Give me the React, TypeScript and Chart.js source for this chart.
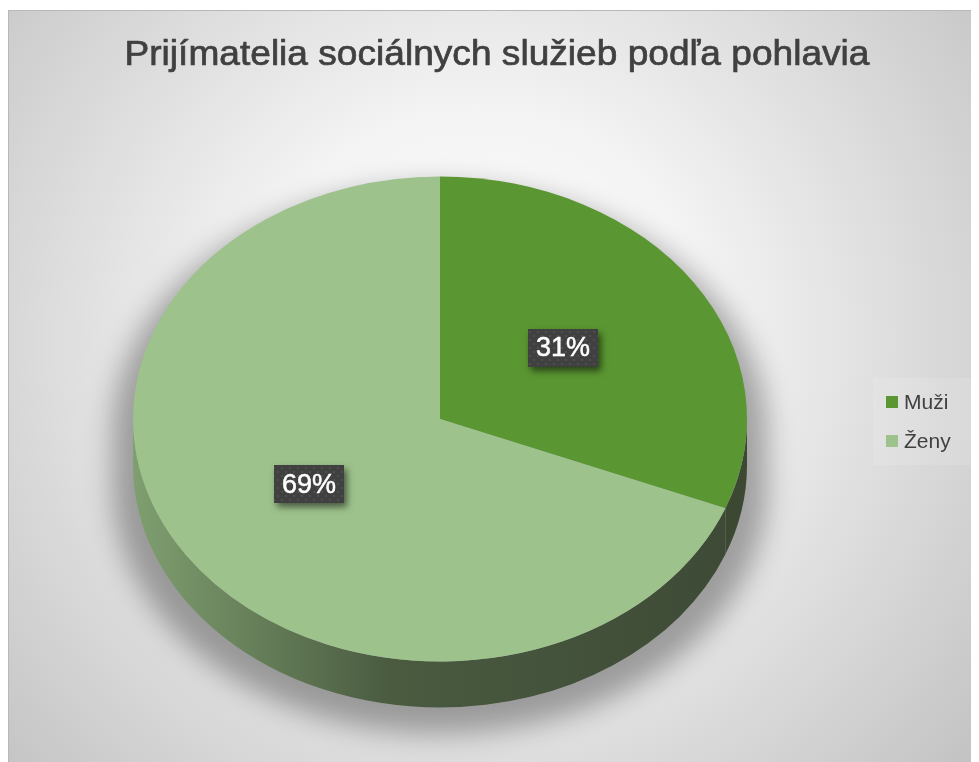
import React, { useEffect, useRef } from "react";
import { Chart, registerables } from "chart.js";

Chart.register(...registerables);

const titleText = "Prijímatelia sociálnych služieb podľa pohlavia";
const categories = ["Muži", "Ženy"];
const values = [31, 69];
const topColors = ["#5a9632", "#9dc28c"];
const sideStops = [
  ["#3e4b34", "#3e4b34", "#3c4832"],
  ["#7f9f70", "#4a5b40", "#3d4935"],
];

const W = 971;
const H = 752;
const K = 0.79; // vertical squash of the pie (3D tilt)
const T = 46; // thickness of the pie side
const FONT = '"Liberation Sans", Arial, Helvetica, sans-serif';

function makePattern(ctx: CanvasRenderingContext2D) {
  const c = document.createElement("canvas");
  c.width = 8;
  c.height = 8;
  const p = c.getContext("2d")!;
  p.fillStyle = "#404040";
  p.fillRect(0, 0, 8, 8);
  p.fillStyle = "#4f4f4f";
  p.fillRect(1, 1, 2, 2);
  p.fillRect(5, 5, 2, 2);
  return ctx.createPattern(c, "repeat")!;
}

const bgPlugin = {
  id: "bg",
  beforeDraw(chart: any) {
    const ctx = chart.ctx as CanvasRenderingContext2D;
    ctx.save();
    const g = ctx.createRadialGradient(470, 330, 0, 470, 330, 640);
    g.addColorStop(0, "#ffffff");
    g.addColorStop(0.35, "#f4f4f4");
    g.addColorStop(1, "#c4c4c4");
    ctx.fillStyle = g;
    ctx.fillRect(0, 0, W, H);
    ctx.strokeStyle = "#b8b8b8";
    ctx.lineWidth = 1;
    ctx.beginPath();
    ctx.moveTo(0.5, H);
    ctx.lineTo(0.5, 0.5);
    ctx.lineTo(W, 0.5);
    ctx.stroke();
    ctx.restore();
  },
};

const squashPlugin = {
  id: "squash",
  beforeDatasetsDraw(chart: any) {
    const arcs = chart.getDatasetMeta(0).data;
    if (!arcs.length) return;
    const ctx = chart.ctx as CanvasRenderingContext2D;
    const cx = arcs[0].x;
    const cy = arcs[0].y;
    const rx = arcs[0].outerRadius;
    const ry = rx * K;

    // soft shadow around/under the pie
    ctx.save();
    ctx.filter = "blur(14px)";
    ctx.beginPath();
    ctx.ellipse(cx, cy + 14, rx + 20, ry + 4, 0, Math.PI, 0);
    ctx.lineTo(cx + rx + 20, cy + T + 22);
    ctx.ellipse(cx, cy + T + 22, rx + 20, ry + 4, 0, 0, Math.PI);
    ctx.closePath();
    ctx.fillStyle = "rgba(0,0,0,0.32)";
    ctx.fill();
    ctx.restore();

    // sides of each slice (front half only)
    arcs.forEach((arc: any, i: number) => {
      const s = arc.startAngle;
      const e = arc.endAngle;
      for (const o of [-2 * Math.PI, 0, 2 * Math.PI]) {
        const a = Math.max(s, o);
        const b = Math.min(e, o + Math.PI);
        if (b <= a) continue;
        const g = ctx.createLinearGradient(cx - rx, 0, cx + rx, 0);
        const st = sideStops[i];
        g.addColorStop(0, st[0]);
        g.addColorStop(0.42, st[1]);
        g.addColorStop(1, st[2]);
        ctx.save();
        ctx.beginPath();
        ctx.ellipse(cx, cy, rx, ry, 0, a - o, b - o);
        ctx.ellipse(cx, cy + T, rx, ry, 0, b - o, a - o, true);
        ctx.closePath();
        ctx.fillStyle = g;
        ctx.fill();
        ctx.restore();
      }
    });

    ctx.save();
    ctx.translate(cx, cy);
    ctx.scale(1, K);
    ctx.translate(-cx, -cy);
  },
  afterDatasetsDraw(chart: any) {
    chart.ctx.restore();
  },
};

const overlayPlugin = {
  id: "overlay",
  afterDraw(chart: any) {
    const ctx = chart.ctx as CanvasRenderingContext2D;
    const arcs = chart.getDatasetMeta(0).data;
    const total = values.reduce((a, b) => a + b, 0);

    // title
    ctx.save();
    ctx.fillStyle = "#404040";
    ctx.strokeStyle = "#404040";
    ctx.lineWidth = 0.7;
    ctx.textAlign = "center";
    ctx.textBaseline = "alphabetic";
    ctx.font = `35px ${FONT}`;
    const tw = ctx.measureText(titleText).width;
    const target = 745;
    ctx.translate(489, 55);
    ctx.scale(target / tw, 1);
    ctx.fillText(titleText, 0, 0);
    ctx.strokeText(titleText, 0, 0);
    ctx.restore();

    // data labels
    const pattern = makePattern(ctx);
    arcs.forEach((arc: any, i: number) => {
      const p = arc.tooltipPosition();
      const cy = arc.y;
      const x = p.x - 4;
      const y = cy + (p.y - cy) * K - 3;
      const label = Math.round((values[i] / total) * 100) + "%";
      ctx.save();
      ctx.font = `27px ${FONT}`;
      const w = ctx.measureText(label).width + 16;
      const h = 38;
      ctx.shadowColor = "rgba(0,0,0,0.55)";
      ctx.shadowBlur = 7;
      ctx.shadowOffsetX = 3;
      ctx.shadowOffsetY = 4;
      ctx.fillStyle = pattern;
      ctx.fillRect(Math.round(x - w / 2), Math.round(y - h / 2), Math.round(w), h);
      ctx.shadowColor = "transparent";
      ctx.fillStyle = "#ffffff";
      ctx.strokeStyle = "#ffffff";
      ctx.lineWidth = 0.5;
      ctx.textAlign = "center";
      ctx.textBaseline = "middle";
      ctx.fillText(label, x, y + 1);
      ctx.strokeText(label, x, y + 1);
      ctx.restore();
    });

    // legend
    ctx.save();
    ctx.fillStyle = "rgba(255,255,255,0.12)";
    ctx.fillRect(865, 368, 102, 87);
    ctx.font = `21px ${FONT}`;
    ctx.textBaseline = "middle";
    ctx.textAlign = "left";
    categories.forEach((c, i) => {
      const yy = 392 + i * 39;
      ctx.fillStyle = topColors[i];
      ctx.fillRect(878, yy - 6, 12, 12);
      ctx.fillStyle = "#404040";
      ctx.fillText(c, 896, yy + 1);
    });
    ctx.restore();
  },
};

export default function App() {
  const ref = useRef<HTMLCanvasElement | null>(null);
  useEffect(() => {
    if (!ref.current) return;
    const chart = new Chart(ref.current, {
      type: "pie",
      data: {
        labels: categories,
        datasets: [
          {
            data: values,
            backgroundColor: topColors,
            borderWidth: 0,
            hoverOffset: 0,
            clip: false,
          } as any,
        ],
      },
      options: {
        responsive: false,
        animation: false,
        devicePixelRatio: 1,
        events: [],
        layout: { padding: { left: 125, right: 232, top: 102, bottom: 36 } },
        plugins: {
          legend: { display: false },
          title: { display: false },
          tooltip: { enabled: false },
        },
      },
      plugins: [bgPlugin, squashPlugin, overlayPlugin],
    });
    return () => chart.destroy();
  }, []);
  return (
    <div style={{ marginTop: 2, width: W, height: H }}>
      <canvas ref={ref} width={W} height={H} style={{ display: "block" }} />
    </div>
  );
}
